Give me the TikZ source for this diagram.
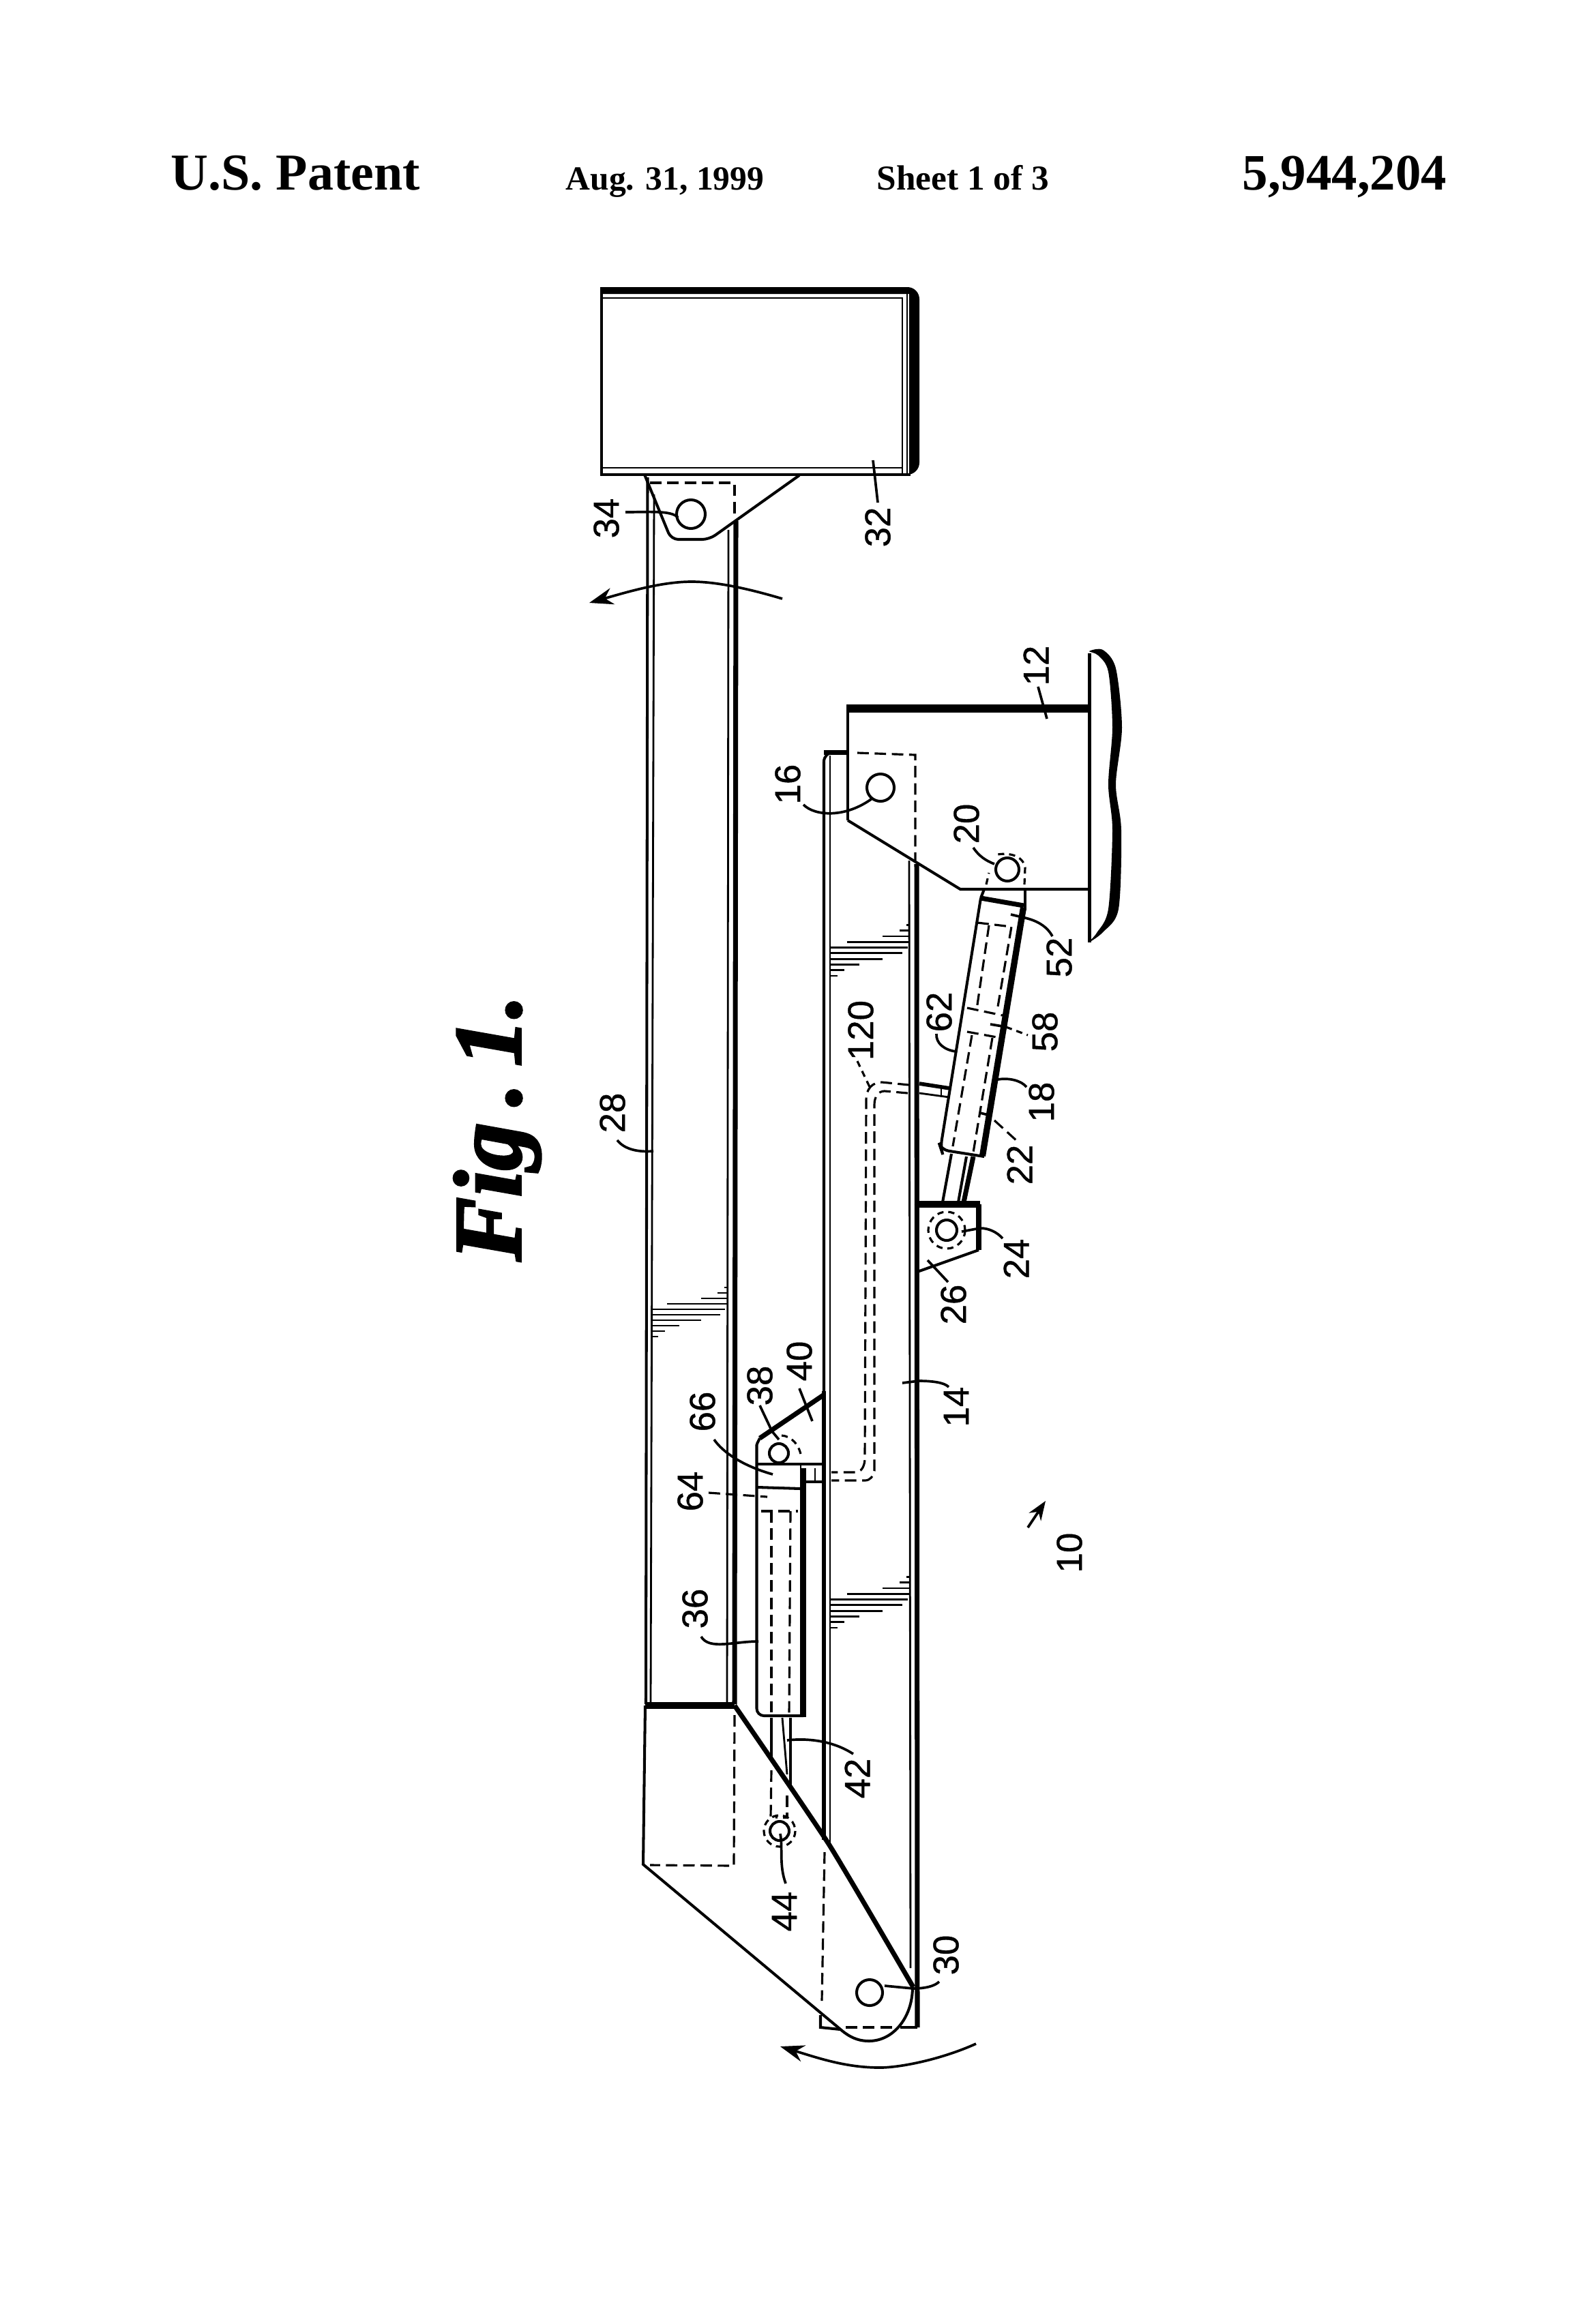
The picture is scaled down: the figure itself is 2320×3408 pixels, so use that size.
\documentclass[tikz,border=0pt]{standalone}
\usepackage{fontspec}
\setmainfont{Liberation Serif}
\newfontfamily\labelfont[FakeBold=0.8]{Liberation Sans}
\newfontfamily\figfont[BoldItalicFeatures={FakeBold=2.5}]{Liberation Serif}
\usetikzlibrary{arrows.meta}
\tikzset{
	outl/.style={line width=1.15pt},
	hairl/.style={line width=0.8pt},
	heavyl/.style={line width=2pt},
	hidl/.style={line width=0.9pt, dash pattern=on 4.8pt off 2.4pt},
	hids/.style={line width=0.9pt, dash pattern=on 2.6pt off 2pt},
	lead/.style={line width=1.05pt},
	lbl/.style={rotate=90, inner sep=0pt, font=\labelfont\fontsize{15}{15}\selectfont},
	head/.style={anchor=base west, inner sep=0pt, font=\bfseries\fontsize{#1}{#1}\selectfont}
}
\newcommand{\hatchband}[4]{\foreach \a/\b [count=\i] in {.96/1,.87/1,.66/1,.21/1,0/.97,0/.91,0/.66,0/.37,0/.18,0/.09}{\draw[hairl] ({#1+\a*(#2-#1)},{#3+\i*#4}) -- ({#1+\b*(#2-#1)},{#3+\i*#4});}}
\begin{document}
\begin{tikzpicture}[x=0.01cm, y=-0.01cm]
			\useasboundingbox (0, 0) rectangle (2320, 3408);
			%%%%% HEADER %%%%%
			\node[head=21.6] (patent) at (250, 278) {U.S. Patent};
			\node[head=14.1] (date) at (829, 278) {Aug. 31, 1999};
			\node[head=14.6] (sheet) at (1285, 278) {Sheet 1 of 3};
			\node[head=21.3] (number) at (1821, 278) {5,944,204};
			\node[rotate=90, anchor=base west, inner sep=0pt, font=\figfont\bfseries\itshape\fontsize{40}{40}\selectfont] (figlabel) at (763, 1850) {Fig\,.\,1.};
			
			%%%%% BOX 32 %%%%%
			\fill (882, 421) [rounded corners=5] -- (1348, 421) -- (1348, 696) [sharp corners] -- (1333, 696) -- (1333, 431) -- (882, 431) -- cycle;
			\draw[outl] (882, 421) -- (882, 696) -- (1335, 696);
			\draw[hairl] (884, 437) -- (1323, 437) -- (1323, 696);
			\draw[hairl] (1330, 431) -- (1330, 696);
			\draw[hairl] (884, 686) -- (1323, 686);
			
			%%%%% ARM 28 %%%%%
			\draw[outl] (949.5, 700) -- (947, 2499);
			\draw[hairl] (959, 725) -- (954, 2499);
			\draw[hairl] (1068, 777) -- (1066, 2499);
			\draw[heavyl] (1079, 764) -- (1077, 2499);
			\hatchband{955}{1066}{1880}{8}
			
			\draw[outl, rounded corners=3] (945, 696) -- (984, 791) -- (1040, 791) -- (1172, 697);
			\draw[hidl] (953, 708) -- (1077, 708) -- (1077, 759);
			\draw[outl] (1013, 754) circle [radius=21];
			
			\draw[heavyl, line width=2.6pt] (946, 2501) -- (1077, 2501);
			\draw[outl] (946, 2501) -- (943, 2734) -- (1236, 2979) .. controls (1250, 2990) and (1262, 2993) .. (1274, 2993) .. controls (1310, 2993) and (1338, 2958) .. (1338, 2914);
			\draw[heavyl] plot[smooth, tension=0.3] coordinates {(1077, 2501) (1215, 2704) (1339, 2914)};
			\draw[hidl] (1077, 2515) -- (1076, 2736) -- (953, 2735);
			\draw[outl] (1275, 2922) circle [radius=19];
			
			\draw[lead, -{Stealth[length=10pt, width=7pt]}] (1147, 878) .. controls (1080, 858) and (1040, 853) .. (1014, 853) .. controls (970, 853) and (920, 868) .. (864, 884);
			\draw[lead, -{Stealth[length=10pt, width=7pt]}] (1431, 2997) .. controls (1380, 3020) and (1320, 3032) .. (1290, 3032) .. controls (1240, 3032) and (1200, 3018) .. (1144, 3001);
			
			%%%%% SUPPORT 12 %%%%%
			\draw[line width=3.2pt] (1241, 1039) -- (1597, 1039);
			\draw[line width=1.4pt] (1243, 1036) -- (1243, 1203);
			\draw[outl] (1243, 1203) -- (1408, 1304) -- (1597.5, 1304);
			\draw[outl] (1597.5, 958) -- (1597.5, 1382);
			\fill plot[smooth cycle] coordinates {(1597, 955) (1617, 953) (1636, 980) (1645, 1067) (1636, 1150) (1644, 1217) (1640, 1333) (1617, 1367) (1596, 1382) (1608, 1368) (1625, 1333) (1631, 1217) (1625, 1150) (1631, 1067) (1625, 985) (1610, 961)};
			\draw[hidl] (1257, 1104) -- (1342, 1107) -- (1342, 1262);
			\draw[outl] (1291, 1155) circle [radius=20];
			\draw[outl] (1477, 1275) circle [radius=17];
			\draw[hids] (1446, 1297) -- (1450, 1280) (1502, 1297) -- (1503, 1272) .. controls (1500, 1255) and (1480, 1250) .. (1463, 1253);
			
			%%%%% BEAM 14 %%%%%
			\draw[outl, rounded corners=4] (1208, 2040) -- (1208, 1103) -- (1243, 1103);
			\draw[line width=2pt] (1208, 1103) -- (1243, 1103);
			\draw[line width=1.7pt] (1208, 2040) -- (1208, 2698);
			\draw[hairl] (1217, 1108) -- (1217, 2704);
			\draw[hairl] (1333, 1262) -- (1335, 2886);
			\draw[heavyl] (1344, 1267) -- (1345, 2973);
			\hatchband{1217}{1334}{1348}{8.3}
			\hatchband{1217}{1334}{2304}{8.3}
			\draw[hidl] (1209, 2716) -- (1205, 2934);
			\draw[outl] (1203, 2955) -- (1203, 2973) -- (1232, 2976);
			\draw[hidl] (1240, 2973) -- (1312, 2973);
			\draw[outl] (1320, 2973) -- (1345, 2973);
			
			%%%%% CYLINDER 18 %%%%%
			\draw[outl] (1443, 1304) -- (1438, 1317);
			\draw[outl, rounded corners=3] (1438, 1317) -- (1379, 1683) -- (1380, 1686) -- (1443, 1696);
			\draw[line width=2pt] (1438, 1317) -- (1501, 1328);
			\draw[outl] (1503, 1304) -- (1503, 1335);
			\fill (1496, 1330) -- (1505, 1332) -- (1445, 1696) -- (1436, 1694) -- cycle;
			\draw[hidl] (1433, 1353) -- (1483, 1359) -- (1462, 1482);
			\draw[hidl] (1450, 1357) -- (1432, 1480);
			\draw[hidl] (1418, 1478) -- (1470, 1489);
			\draw[hidl] (1418, 1513) -- (1467, 1522);
			\draw[hidl] (1425, 1518) -- (1397, 1681);
			\draw[hidl] (1455, 1522) -- (1427, 1690);
			\draw[lead] (1437, 1632) -- (1453, 1636);
			\draw[outl] (1395, 1692) -- (1382, 1763);
			\draw[outl] (1417, 1696) -- (1405, 1763);
			\draw[heavyl] (1427, 1696) -- (1413, 1763);
			
			\draw[line width=2.6pt] (1343, 1766) -- (1437, 1766);
			\draw[heavyl] (1435, 1766) -- (1435, 1833);
			\draw[outl] (1435, 1833) -- (1345, 1865);
			\draw[outl] (1343, 1766) -- (1345, 1865);
			\draw[outl] (1388, 1804) circle [radius=15];
			\draw[hids] (1388, 1804) circle [radius=27];
			
			%%%%% TUBE 120 %%%%%
			\draw[line width=1.6pt] (1348, 1589) -- (1393, 1596);
			\draw[hairl] (1348, 1603) -- (1392, 1609);
			\draw[hairl] (1380, 1596) -- (1380, 1609);
			\draw[hidl] (1333, 1591) -- (1293, 1587) .. controls (1278, 1587) and (1270, 1598) .. (1270, 1612) -- (1268, 2141) .. controls (1267, 2152) and (1262, 2159) .. (1254, 2159) -- (1219, 2159);
			\draw[hidl] (1331, 1603) -- (1297, 1600) .. controls (1288, 1600) and (1282, 1608) .. (1282, 1620) -- (1282, 2157) .. controls (1280, 2165) and (1276, 2171) .. (1268, 2171) -- (1219, 2171);
			
			%%%%% CYLINDER 36 %%%%%
			\draw[outl, rounded corners=3] (1109.5, 2118) -- (1109.5, 2516) -- (1178, 2516);
			\draw[heavyl] (1178, 2153) -- (1178, 2518);
			\draw[hairl] (1174, 2147) -- (1174, 2516);
			\draw[outl] (1109.5, 2118) -- (1114, 2109);
			\draw[heavyl] (1114, 2109) -- (1207, 2046);
			\draw[line width=1.4pt] (1111, 2147) -- (1209, 2147);
			\draw[outl] (1111, 2181) -- (1174, 2183);
			\draw[outl] (1181, 2173) -- (1209, 2173);
			\draw[hairl] (1195, 2153) -- (1195, 2173);
			\draw[hidl] (1116, 2216) -- (1170, 2216);
			\draw[hidl] (1131, 2216) -- (1131, 2516);
			\draw[hidl] (1159, 2216) -- (1157, 2516);
			\draw[outl] (1142, 2131) circle [radius=14];
			\draw[hids] (1146, 2105) .. controls (1160, 2106) and (1172, 2118) .. (1175, 2137);
			
			\draw[outl] (1131, 2519) -- (1131, 2576);
			\draw[hairl] (1147, 2519) -- (1154, 2602);
			\draw[line width=1.4pt] (1159, 2519) -- (1159, 2617);
			\draw[hidl] (1131, 2596) -- (1130, 2665) -- (1140, 2665);
			\draw[hidl] (1154, 2633) -- (1154, 2665) -- (1148, 2665);
			\draw[outl] (1143, 2685) circle [radius=14];
			\draw[hids] (1143, 2685) circle [radius=23];
			
			%%%%% LEADERS %%%%%
			\node[lbl] (n34) at (889, 760) {34};
			\draw[lead] (917, 751) .. controls (950, 751) and (985, 748) .. (994, 759);
			\node[lbl] (n32) at (1287, 773) {32};
			\draw[lead] (1287, 737) -- (1280, 675);
			\node[lbl] (n12) at (1519, 976) {12};
			\draw[lead] (1522, 1007) -- (1535, 1054);
			\node[lbl] (n16) at (1155, 1150) {16};
			\draw[lead] (1178, 1180) .. controls (1195, 1197) and (1240, 1200) .. (1280, 1170);
			\node[lbl] (n20) at (1417, 1208) {20};
			\draw[lead] (1427, 1243) .. controls (1435, 1255) and (1445, 1262) .. (1458, 1267);
			\node[lbl] (n52) at (1553, 1404) {52};
			\draw[lead] (1482, 1341) -- (1503, 1346) .. controls (1520, 1350) and (1535, 1358) .. (1543, 1373);
			\node[lbl] (n58) at (1532, 1513) {58};
			\draw[lead] (1452, 1502) -- (1470, 1505);
			\draw[hids] (1475, 1506) -- (1507, 1518);
			\node[lbl] (n62) at (1377, 1484) {62};
			\draw[lead] (1402, 1542) .. controls (1385, 1540) and (1372, 1530) .. (1373, 1516);
			\node[lbl] (n120) at (1262, 1511) {120};
			\draw[hids] (1257, 1556) -- (1277, 1598);
			\node[lbl] (n18) at (1527, 1616) {18};
			\draw[lead] (1463, 1583) .. controls (1480, 1580) and (1498, 1585) .. (1505, 1594);
			\node[lbl] (n22) at (1495, 1708) {22};
			\draw[hidl] (1458, 1643) -- (1492, 1674);
			\node[lbl] (n24) at (1490, 1846) {24};
			\draw[lead] (1410, 1806) -- (1437, 1801) .. controls (1450, 1801) and (1462, 1807) .. (1470, 1816);
			\node[lbl] (n26) at (1398, 1913) {26};
			\draw[lead] (1360, 1848) -- (1390, 1880);
			\node[lbl] (n28) at (898, 1632) {28};
			\draw[lead] (905, 1672) .. controls (915, 1685) and (935, 1690) .. (958, 1688);
			\node[lbl] (n14) at (1402, 2063) {14};
			\draw[lead] (1323, 2028) -- (1347, 2025) .. controls (1365, 2025) and (1385, 2027) .. (1391, 2034);
			\node[lbl] (n40) at (1172, 1996) {40};
			\draw[lead] (1172, 2036) -- (1191, 2084);
			\node[lbl] (n38) at (1114, 2032) {38};
			\draw[lead] (1114, 2061) -- (1132, 2099) -- (1142, 2111);
			\node[lbl] (n66) at (1030, 2070) {66};
			\draw[lead] (1047, 2111) .. controls (1060, 2130) and (1090, 2150) .. (1133, 2162);
			\node[lbl] (n64) at (1012, 2187) {64};
			\draw[hidl] (1039, 2189) -- (1125, 2195);
			\node[lbl] (n36) at (1019, 2359) {36};
			\draw[lead] (1028, 2400) .. controls (1040, 2420) and (1075, 2407) .. (1112, 2407);
			\node[lbl] (n10) at (1568, 2277) {10};
			\draw[lead, -{Stealth[length=8pt, width=6pt]}] (1507, 2240) -- (1533, 2201);
			\node[lbl] (n42) at (1257, 2608) {42};
			\draw[lead] (1154, 2552) .. controls (1190, 2548) and (1225, 2555) .. (1251, 2572);
			\node[lbl] (n44) at (1150, 2803) {44};
			\draw[lead] (1144, 2689) .. controls (1148, 2710) and (1142, 2735) .. (1152, 2762);
			\node[lbl] (n30) at (1387, 2867) {30};
			\draw[lead] (1297, 2912) -- (1339, 2916) .. controls (1355, 2916) and (1370, 2913) .. (1377, 2906);
			%%%%% END %%%%%
		\end{tikzpicture}
\end{document}
